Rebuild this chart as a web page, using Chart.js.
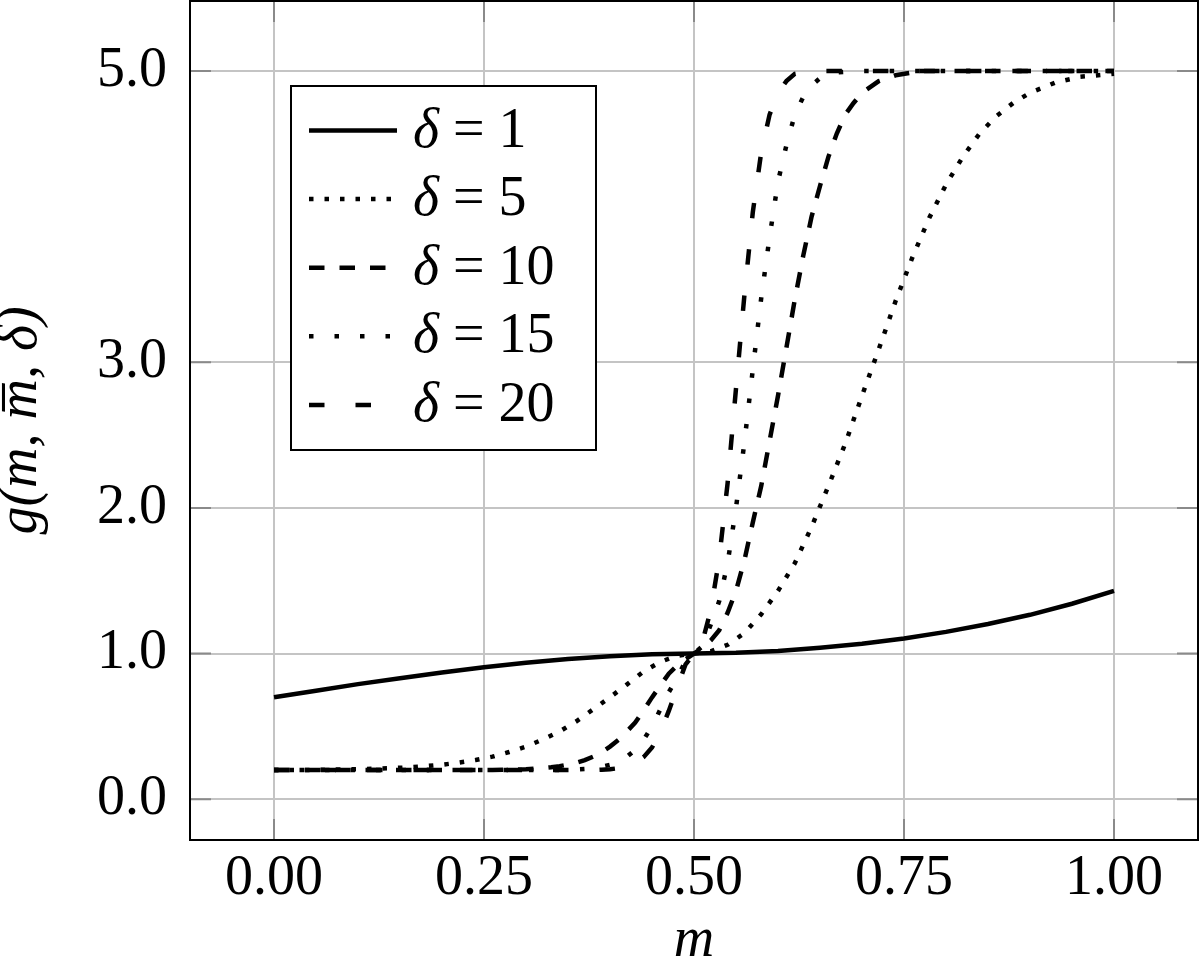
<!DOCTYPE html>
<html><head><meta charset="utf-8">
<script src="https://cdn.jsdelivr.net/npm/chart.js@4.4.0/dist/chart.umd.min.js"></script>
<style>html,body{margin:0;padding:0;background:#fff;}#wrap{width:1200px;height:961px;position:relative;}</style>
</head><body><div id="wrap"><canvas id="c" width="1200" height="961"></canvas></div>
<script>
// ---- data ----
const xTicks = [0, 0.25, 0.5, 0.75, 1.0];
const yTicks = [0, 1, 2, 3, 5];
const deltas = [1, 5, 10, 15, 20];

const m1 = [0,0.05,0.1,0.15,0.2,0.25,0.3,0.35,0.4,0.45,0.5,0.55,0.6,0.65,0.7,0.75,0.8,0.85,0.9,0.95,1.0];
const g1 = [0.70,0.745,0.79,0.83,0.87,0.906,0.937,0.962,0.982,0.995,1.0,1.005,1.018,1.04,1.067,1.104,1.149,1.203,1.266,1.342,1.43];

const m5 = [0,0.04,0.07,0.10,0.12,0.14,0.16,0.18,0.20,0.22,0.24,0.26,0.28,0.30,0.32,0.34,0.36,0.38,0.40,0.42,0.44,0.46,0.48,0.5,0.52,0.54,0.56,0.58,0.60,0.62,0.64,0.66,0.68,0.70,0.72,0.74,0.76,0.78,0.80,0.82,0.84,0.86,0.88,0.90,0.93,0.96,1.0];
const g5 = [0.2,0.201,0.203,0.206,0.209,0.213,0.219,0.227,0.237,0.251,0.269,0.292,0.324,0.361,0.41,0.465,0.535,0.617,0.70,0.787,0.877,0.943,0.985,1.0,1.015,1.06,1.14,1.27,1.43,1.62,1.87,2.15,2.44,2.77,3.09,3.42,3.72,3.99,4.22,4.41,4.57,4.69,4.78,4.85,4.92,4.96,4.98];

const m10 = [0,0.23,0.26,0.28,0.30,0.31,0.32,0.33,0.34,0.35,0.36,0.37,0.38,0.39,0.40,0.41,0.42,0.43,0.44,0.45,0.46,0.47,0.48,0.49,0.50,0.51,0.52,0.53,0.54,0.55,0.56,0.57,0.58,0.59,0.60,0.61,0.62,0.63,0.64,0.65,0.66,0.67,0.68,0.69,0.70,0.72,0.74,0.77,1.0];
const g10 = [0.2,0.2,0.201,0.203,0.206,0.209,0.213,0.219,0.227,0.2375,0.25,0.268,0.292,0.323,0.361,0.407,0.465,0.526,0.61,0.699,0.781,0.862,0.917,0.962,1.0,1.04,1.09,1.16,1.28,1.43,1.64,1.90,2.15,2.46,2.77,3.10,3.43,3.73,4.00,4.21,4.41,4.57,4.70,4.78,4.85,4.93,4.97,5.0,5.0];

const m15 = [0,0.33,0.35,0.36,0.37,0.38,0.39,0.40,0.41,0.42,0.43,0.44,0.45,0.46,0.47,0.48,0.49,0.50,0.51,0.52,0.53,0.54,0.55,0.56,0.57,0.58,0.59,0.60,0.61,0.62,0.63,0.64,0.65,0.67,0.70,1.0];
const g15 = [0.2,0.2,0.202,0.204,0.2075,0.213,0.223,0.236,0.259,0.291,0.339,0.408,0.50,0.617,0.735,0.833,0.952,1.0,1.05,1.2,1.36,1.62,2.0,2.45,2.95,3.44,3.86,4.24,4.49,4.70,4.82,4.90,4.95,4.99,5.0,5.0];

const m20 = [0,0.38,0.39,0.40,0.41,0.42,0.43,0.44,0.45,0.46,0.47,0.48,0.49,0.50,0.51,0.52,0.53,0.54,0.55,0.56,0.57,0.58,0.59,0.60,0.61,0.62,0.64,1.0];
const g20 = [0.2,0.2,0.203,0.206,0.213,0.225,0.248,0.289,0.355,0.461,0.606,0.769,0.926,1.0,1.08,1.30,1.65,2.17,2.82,3.46,4.03,4.44,4.70,4.85,4.93,4.98,5.0,5.0];

// ---- styles ----
const FONT = '"Liberation Serif", "Times New Roman", serif';
const styles = [
  { dash: [] },
  { dash: [4.5, 11] },
  { dash: [15.5, 15] },
  { dash: [4.5, 21] },
  { dash: [15.5, 31] }
];
const pairs = (xs, ys) => xs.map((x, i) => ({ x: x, y: ys[i] }));
const series = [[m1,g1],[m5,g5],[m10,g10],[m15,g15],[m20,g20]];

const datasets = series.map((s, i) => ({
  label: 'δ = ' + deltas[i],
  data: pairs(s[0], s[1]),
  borderColor: '#000',
  backgroundColor: '#000',
  borderWidth: 4.5,
  borderDash: styles[i].dash,
  borderCapStyle: 'butt',
  pointRadius: 0,
  tension: 0,
  fill: false
}));

const framePlugin = {
  id: 'frame',
  beforeDatasetsDraw(chart) {
    const c = chart.ctx, a = chart.chartArea;
    const xs = chart.scales.x, ys = chart.scales.y;
    c.save();
    c.strokeStyle = '#8a8a8a';
    c.lineWidth = 2;
    const L = 21;
    xTicks.forEach(v => {
      const px = xs.getPixelForValue(v);
      c.beginPath(); c.moveTo(px, a.bottom); c.lineTo(px, a.bottom - L);
      c.moveTo(px, a.top); c.lineTo(px, a.top + L); c.stroke();
    });
    yTicks.forEach(v => {
      const py = ys.getPixelForValue(v);
      c.beginPath(); c.moveTo(a.left, py); c.lineTo(a.left + L, py);
      c.moveTo(a.right, py); c.lineTo(a.right - L, py); c.stroke();
    });
    c.restore();
  },
  afterDraw(chart) {
    const c = chart.ctx, a = chart.chartArea;
    c.save();
    c.strokeStyle = '#000';
    c.lineWidth = 2;
    c.strokeRect(a.left, a.top, a.right - a.left, a.bottom - a.top);
    // legend box
    const bx = 291, by = 86, bw = 305, bh = 364;
    c.fillStyle = '#fff';
    c.fillRect(bx, by, bw, bh);
    c.strokeRect(bx, by, bw, bh);
    chart.data.datasets.forEach((ds, i) => {
      const y = 130.5 + i * 68.6;
      c.strokeStyle = '#000';
      c.lineWidth = ds.borderWidth;
      c.lineCap = 'butt';
      c.setLineDash(ds.borderDash || []);
      c.beginPath(); c.moveTo(309, y); c.lineTo(397, y); c.stroke();
      c.setLineDash([]);
      c.fillStyle = '#000';
      c.textBaseline = 'alphabetic';
      c.textAlign = 'left';
      const sym = ds.label.charAt(0), rest = ds.label.slice(1);
      c.font = 'italic 56px ' + FONT;
      c.fillText(sym, 413, y + 16);
      const w = c.measureText(sym).width;
      c.font = '56px ' + FONT;
      c.fillText(rest, 413 + w, y + 16);
    });
    c.restore();
  }
};

new Chart(document.getElementById('c'), {
  type: 'line',
  data: { datasets: datasets },
  plugins: [framePlugin],
  options: {
    responsive: false,
    animation: false,
    events: [],
    layout: { padding: { top: 1, right: 2, bottom: 0, left: 0 } },
    plugins: { legend: { display: false }, tooltip: { enabled: false } },
    scales: {
      x: {
        type: 'linear', min: -0.1, max: 1.1,
        afterBuildTicks: s => { s.ticks = xTicks.map(v => ({ value: v })); },
        afterFit: s => { s.height = 121; s.paddingLeft = 0; s.paddingRight = 0; s.paddingTop = 0; s.paddingBottom = 0; },
        ticks: { callback: v => Number(v).toFixed(2), font: { family: FONT, size: 56 }, color: '#000', padding: 6, maxRotation: 0, autoSkip: false },
        grid: { color: '#c4c4c4', lineWidth: 2, drawTicks: false },
        border: { display: false },
        title: { display: true, text: 'm', color: '#000', font: { family: FONT, size: 56, style: 'italic', lineHeight: '40px' }, padding: 0 }
      },
      y: {
        type: 'linear', min: -0.28, max: 5.48,
        afterBuildTicks: s => { s.ticks = yTicks.map(v => ({ value: v })); },
        afterFit: s => { s.width = 190; s.paddingLeft = 0; s.paddingRight = 0; s.paddingTop = 0; s.paddingBottom = 0; },
        ticks: { callback: v => Number(v).toFixed(1), font: { family: FONT, size: 56 }, color: '#000', padding: 23, autoSkip: false },
        grid: { color: '#c4c4c4', lineWidth: 2, drawTicks: false },
        border: { display: false },
        title: { display: true, text: 'g(m, m\u0305, δ)', color: '#000', font: { family: FONT, size: 56, style: 'italic', lineHeight: '40px' }, padding: { top: 1, bottom: 0 } }
      }
    }
  }
});
</script>
</body></html>
